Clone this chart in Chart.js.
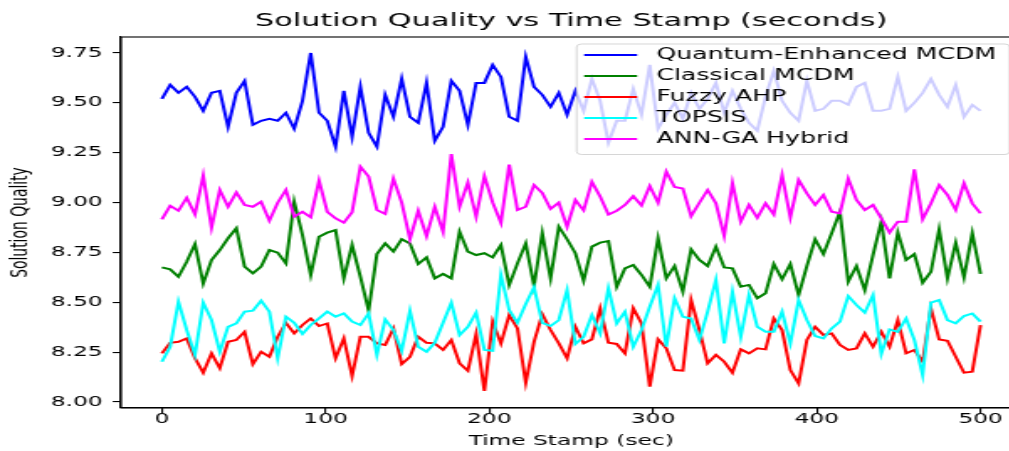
<!DOCTYPE html>
<html><head><meta charset="utf-8">
<script src="https://cdn.jsdelivr.net/npm/chart.js@4.4.0/dist/chart.umd.min.js"></script>
<style>
html,body{margin:0;padding:0;background:#fff;overflow:hidden;width:1009px;height:451px;}
#wrap{position:absolute;left:0;top:0;width:608px;height:451px;transform:scaleX(1.68);transform-origin:0 0;}
canvas{display:block;}
</style></head><body>
<div id="wrap"><canvas id="c" width="608" height="451" style="width:608px;height:451px"></canvas></div>
<script>
const timeStamps = Array.from({length: 100}, (_, i) => i * 500 / 99);

const quantum = [9.52,9.59,9.55,9.58,9.53,9.46,9.55,9.56,9.38,9.55, 9.61,9.39,9.41,9.42,9.41,9.45,9.37,9.51,9.75,9.45, 9.41,9.28,9.56,9.33,9.58,9.35,9.28,9.54,9.43,9.62, 9.43,9.40,9.60,9.31,9.38,9.61,9.56,9.39,9.60,9.60, 9.69,9.63,9.43,9.41,9.73,9.58,9.54,9.48,9.55,9.44, 9.56,9.46,9.62,9.51,9.30,9.41,9.41,9.57,9.44,9.69, 9.37,9.44,9.50,9.42,9.55,9.47,9.52,9.60,9.45,9.56, 9.47,9.40,9.36,9.53,9.66,9.51,9.45,9.41,9.61,9.46, 9.47,9.51,9.51,9.49,9.58,9.60,9.46,9.46,9.47,9.63, 9.46,9.50,9.55,9.62,9.54,9.48,9.59,9.43,9.49,9.46];

const classical = [8.675,8.665,8.628,8.703,8.792,8.594,8.712,8.762,8.821,8.871, 8.679,8.645,8.679,8.762,8.749,8.695,9.004,8.837,8.637,8.829, 8.849,8.862,8.620,8.787,8.628,8.458,8.742,8.795,8.754,8.816, 8.795,8.692,8.725,8.620,8.642,8.620,8.854,8.754,8.737,8.746, 8.725,8.787,8.587,8.695,8.795,8.582,8.846,8.620,8.879,8.816, 8.746,8.608,8.779,8.799,8.807,8.578,8.670,8.687,8.637,8.578, 8.821,8.620,8.682,8.553,8.765,8.712,8.682,8.779,8.675,8.670, 8.578,8.587,8.520,8.545,8.692,8.615,8.692,8.536,8.682,8.816, 8.742,8.846,8.954,8.603,8.682,8.561,8.737,8.904,8.620,8.850, 8.712,8.742,8.598,8.653,8.866,8.620,8.799,8.625,8.846,8.642];

const fuzzyAhp = [8.244,8.297,8.302,8.319,8.219,8.147,8.244,8.169,8.302,8.311, 8.352,8.190,8.252,8.227,8.327,8.397,8.344,8.386,8.419,8.381, 8.394,8.219,8.319,8.131,8.327,8.327,8.294,8.286,8.369,8.190, 8.227,8.327,8.297,8.294,8.261,8.311,8.194,8.157,8.341,8.056, 8.403,8.294,8.436,8.369,8.097,8.302,8.440,8.361,8.294,8.219, 8.377,8.294,8.314,8.470,8.297,8.291,8.244,8.470,8.394,8.077, 8.314,8.269,8.160,8.157,8.511,8.361,8.194,8.236,8.202,8.147, 8.264,8.244,8.269,8.264,8.419,8.361,8.160,8.093,8.311,8.377, 8.336,8.344,8.286,8.261,8.269,8.344,8.277,8.352,8.277,8.411, 8.244,8.261,8.202,8.470,8.314,8.307,8.227,8.147,8.152,8.386];

const topsis = [8.202,8.277,8.503,8.361,8.236,8.498,8.411,8.252,8.377,8.394, 8.453,8.458,8.508,8.453,8.219,8.428,8.397,8.341,8.386,8.419, 8.453,8.428,8.444,8.403,8.386,8.444,8.236,8.414,8.361,8.257, 8.458,8.277,8.252,8.297,8.397,8.498,8.336,8.377,8.448,8.261, 8.257,8.637,8.461,8.397,8.491,8.575,8.397,8.381,8.411,8.561, 8.291,8.327,8.436,8.344,8.570,8.394,8.453,8.277,8.361,8.478, 8.587,8.277,8.520,8.428,8.419,8.311,8.453,8.612,8.294,8.553, 8.327,8.536,8.377,8.352,8.352,8.453,8.294,8.511,8.411,8.331, 8.319,8.369,8.403,8.531,8.486,8.448,8.536,8.241,8.364,8.352, 8.419,8.311,8.135,8.498,8.511,8.411,8.394,8.431,8.444,8.403];

const annGa = [8.916,8.984,8.959,9.024,8.941,9.135,8.875,9.063,8.979,9.051, 8.988,8.979,9.004,8.909,8.999,9.063,8.929,8.954,8.926,9.110, 8.954,8.921,8.899,8.952,9.180,9.130,8.963,8.943,9.120,9.000, 8.816,8.959,8.832,8.979,8.854,9.243,8.979,9.100,8.929,9.133, 9.000,8.899,9.190,8.963,8.979,9.088,9.048,8.968,9.000,8.879, 9.013,8.961,9.104,9.030,8.940,8.959,8.988,9.032,8.985,9.083, 8.999,9.155,9.078,9.070,8.932,8.999,9.063,8.996,8.832,9.097, 8.904,8.988,8.923,8.996,8.940,9.138,8.926,9.113,9.046,8.988, 9.038,8.954,8.946,9.120,9.013,8.963,8.988,8.921,8.850,8.904, 8.904,9.167,8.916,8.996,9.088,9.038,8.963,9.097,8.996,8.946];

const seriesNames = ['Quantum-Enhanced MCDM', 'Classical MCDM', 'Fuzzy AHP', 'TOPSIS', 'ANN-GA Hybrid'];
const seriesValues = [quantum, classical, fuzzyAhp, topsis, annGa];
const seriesColors = ['#0000ff', '#008000', '#ff0000', '#00ffff', '#ff00ff'];
const xTicks = [0, 100, 200, 300, 400, 500];
const yTicks = [8.00, 8.25, 8.50, 8.75, 9.00, 9.25, 9.50, 9.75];

const FONT = 'DejaVu Sans';

const datasets = seriesNames.map((name, k) => ({
  label: name,
  data: timeStamps.map((t, i) => ({x: t, y: seriesValues[k][i]})),
  borderColor: seriesColors[k],
  backgroundColor: seriesColors[k],
  borderWidth: 2,
  pointRadius: 0,
  tension: 0,
  fill: false,
  order: seriesNames.length - k
}));

const overlayPlugin = {
  id: 'overlay',
  afterDatasetsDraw(chart) {
    const ctx = chart.ctx;
    const a = chart.chartArea;
    ctx.save();
    ctx.strokeStyle = '#000';
    ctx.lineWidth = 1.1;
    ctx.strokeRect(a.left, a.top, a.right - a.left, a.bottom - a.top);
    ctx.font = '15px "' + FONT + '"';
    let tw = 0;
    seriesNames.forEach(n => { tw = Math.max(tw, ctx.measureText(n).width); });
    const right = a.right - 7;
    const top = a.top + 7;
    const w = 47.5 + tw + 8;
    const left = right - w;
    const rowH = 21;
    const h = 22 + rowH * (seriesNames.length - 1) + 4.5;
    ctx.globalAlpha = 0.8;
    ctx.fillStyle = '#ffffff';
    ctx.strokeStyle = '#cccccc';
    ctx.lineWidth = 1;
    ctx.beginPath();
    ctx.roundRect(left, top, w, h, 3);
    ctx.fill();
    ctx.stroke();
    ctx.globalAlpha = 1;
    seriesNames.forEach((n, k) => {
      const cy = top + 11 + k * rowH;
      ctx.strokeStyle = seriesColors[k];
      ctx.lineWidth = 2;
      ctx.beginPath();
      ctx.moveTo(left + 4.5, cy);
      ctx.lineTo(left + 36, cy);
      ctx.stroke();
      ctx.fillStyle = '#000';
      ctx.textBaseline = 'middle';
      ctx.textAlign = 'left';
      ctx.fillText(n, left + 47.5, cy + 0.5);
    });
    ctx.restore();
  }
};

new Chart(document.getElementById('c'), {
  type: 'line',
  data: { datasets },
  options: {
    responsive: false,
    animation: false,
    devicePixelRatio: 1,
    layout: { padding: 0 },
    plugins: {
      legend: { display: false },
      tooltip: { enabled: false },
      title: {
        display: true,
        text: 'Solution Quality vs Time Stamp (seconds)',
        fullSize: false,
        color: '#000',
        font: { family: FONT, size: 18, weight: 'normal' },
        padding: { top: 11, bottom: 4.4 }
      }
    },
    scales: {
      x: {
        type: 'linear',
        min: -25,
        max: 525,
        afterBuildTicks: axis => { axis.ticks = xTicks.map(v => ({value: v})); },
        afterFit: axis => { axis.height = 43; },
        grid: { drawOnChartArea: false, drawTicks: true, tickLength: 4.9, color: '#000', lineWidth: 1.1 },
        border: { display: true, color: '#000', width: 1.1 },
        ticks: { color: '#000', font: { family: FONT, size: 13.9 }, padding: -2, maxRotation: 0, callback: v => String(v) },
        title: { display: true, text: 'Time Stamp (sec)', color: '#000', font: { family: FONT, size: 13.9 }, padding: { top: 0, bottom: 1 } }
      },
      y: {
        type: 'linear',
        min: 7.970,
        max: 9.830,
        afterBuildTicks: axis => { axis.ticks = yTicks.map(v => ({value: v})); },
        afterFit: axis => { axis.width = 72; },
        grid: { drawOnChartArea: false, drawTicks: true, tickLength: 4.9, color: '#000', lineWidth: 1.1 },
        border: { display: true, color: '#000', width: 1.1 },
        ticks: { color: '#000', font: { family: FONT, size: 13.9 }, padding: 6, callback: v => Number(v).toFixed(2) },
        title: { display: true, text: 'Solution Quality', color: '#000', font: { family: FONT, size: 13.9 }, padding: { top: 4, bottom: 0 } }
      }
    }
  },
  plugins: [overlayPlugin]
});
</script>
</body></html>
